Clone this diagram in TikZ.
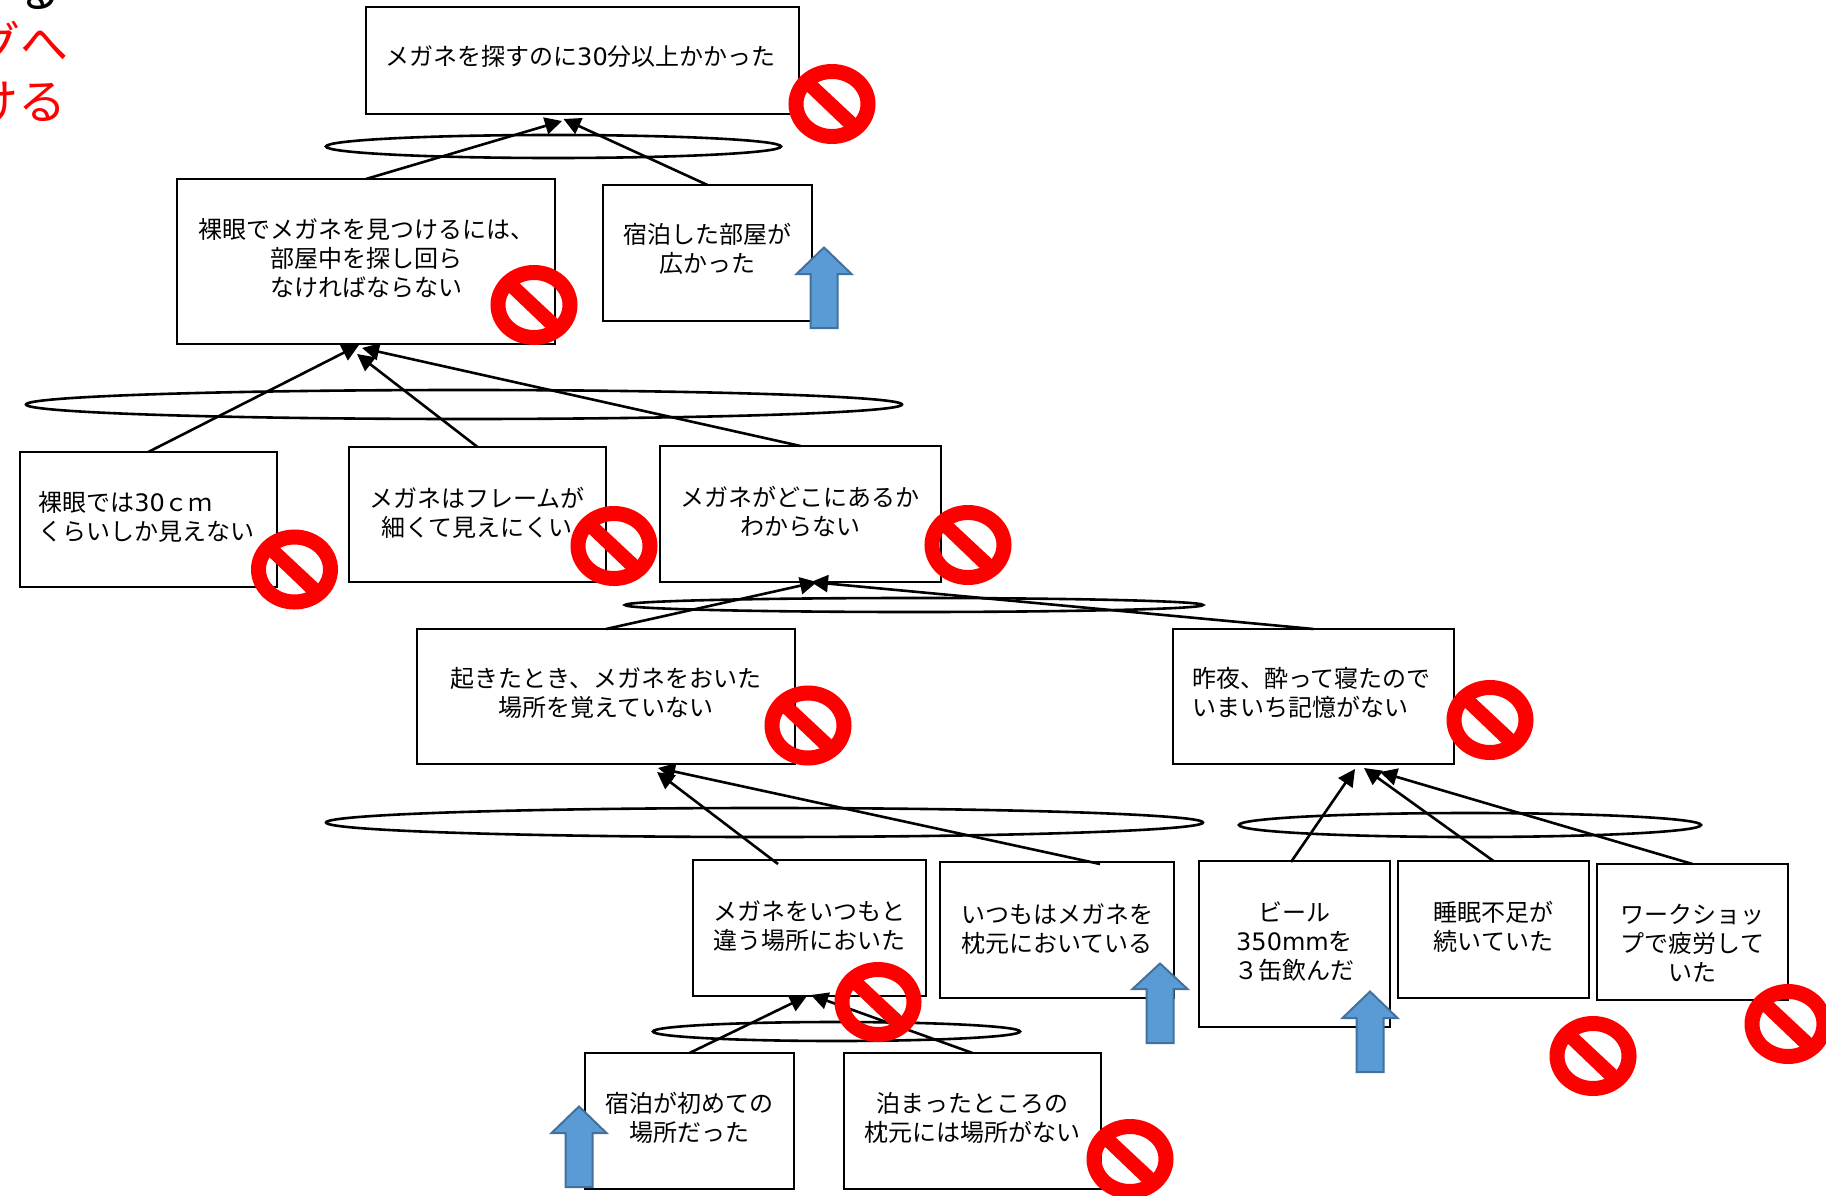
\documentclass[tikz,border=0pt]{standalone}
\usepackage{fontspec}
\setmainfont{Noto Sans CJK JP}
\newfontfamily\lat{DejaVu Sans}
\usetikzlibrary{arrows.meta,shapes.geometric}
\tikzset{
  causebox/.style={draw=black,fill=white,line width=2pt,rectangle,inner sep=0pt,outer sep=0pt},
  andring/.style={draw=black,line width=2.6pt,ellipse,inner sep=0pt,outer sep=0pt},
  link/.style={draw=black,line width=2.6pt,-{Triangle[length=17pt,width=17pt]},shorten >=0pt},
  bluearrow/.style={fill=arrowblue,draw=arrowedge,line width=2pt,line join=miter},
  redfrag/.style={text=red,font=\fontsize{48}{60}\selectfont,inner sep=0pt,anchor=east},
  pics/nosign/.style={code={
    \node[draw=red,line width=15pt,ellipse,inner sep=0pt,outer sep=0pt,minimum width=72pt,minimum height=65pt] {};
    \fill[red] (-18,-25) -- (28,18) -- (17,28) -- (-29,-16) -- cycle;
  }}
}
\definecolor{arrowblue}{HTML}{5B9BD5}
\definecolor{arrowedge}{HTML}{41719C}
% name, x1,y1,x2,y2, raise, column type, horizontal kern, text
\newcommand{\bx}[9]{%
  \pgfmathsetmacro{\bw}{#4-#2}\pgfmathsetmacro{\bh}{#5-#3}%
  \node[causebox,minimum width=\bw pt,minimum height=\bh pt] (#1) at ({(#2+#4)/2},{(#3+#5)/2})
    {\raisebox{#6pt}[0pt][0pt]{\makebox[0pt]{\kern#8pt\fontsize{24}{29}\selectfont\begin{tabular}{@{}#7@{}}#9\end{tabular}}}};%
}
% name, x1,y1,x2,y2
\newcommand{\rng}[5]{%
  \pgfmathsetmacro{\bw}{#4-#2}\pgfmathsetmacro{\bh}{#5-#3}%
  \node[andring,minimum width=\bw pt,minimum height=\bh pt] (#1) at ({(#2+#4)/2},{(#3+#5)/2}) {};%
}
% centre x, top, head base, half head, half shaft, bottom
\newcommand{\blueup}[6]{%
  \path[bluearrow] (#1,#2) -- ({#1+#4},#3) -- ({#1+#5},#3) -- ({#1+#5},#6) -- ({#1-#5},#6) -- ({#1-#5},#3) -- ({#1-#4},#3) -- cycle;%
}
\begin{document}
\begin{tikzpicture}[x=1pt,y=-1pt]
\useasboundingbox (0,0) rectangle (1826,1196);
\fill[white] (0,0) rectangle (1826,1196);

% clipped fragments at the upper left
\node[text=black,font=\fontsize{48}{60}\selectfont,inner sep=0pt,anchor=east] (fragA) at (62,-10) {る};
\node[redfrag] (fragB) at (68.5,43) {グへ};
\node[redfrag] (fragC) at (67,102) {ける};

% boxes
\bx{b1}{366}{7}{799}{114}{-5.5}{c}{-4}{メガネを探すのに{\lat 30}分以上かかった}
\bx{b2}{177}{179}{555}{344}{-6.5}{c}{0}{裸眼でメガネを見つけるには、\\部屋中を探し回ら\\なければならない}
\bx{b3}{603}{185}{812}{321}{-5.5}{c}{0}{宿泊した部屋が\\広かった}
\bx{b4}{19.5}{452}{277}{587}{-6.5}{l}{-4}{裸眼では{\lat 30}ｃｍ\\くらいしか見えない}
\bx{b5}{349}{447}{606}{582}{-7.5}{c}{-1}{メガネはフレームが\\細くて見えにくい}
\bx{b6}{660}{446}{941}{582}{-7}{c}{-1}{メガネがどこにあるか\\わからない}
\bx{b7}{417}{629}{795}{764}{-6}{c}{0}{起きたとき、メガネをおいた\\場所を覚えていない}
\bx{b8}{1173}{629}{1454}{764}{-6}{l}{-4}{昨夜、酔って寝たので\\いまいち記憶がない}
\bx{b9}{693}{860}{926}{996}{-7}{c}{0}{メガネをいつもと\\違う場所においた}
\bx{b10}{940}{862}{1174}{998}{-8}{c}{0}{いつもはメガネを\\枕元においている}
\bx{b11}{1199}{861}{1390}{1027}{-6.5}{c}{0}{ビール\\{\lat 350mm}を\\３缶飲んだ}
\bx{b12}{1398}{861}{1589}{998}{-7}{c}{0}{睡眠不足が\\続いていた}
\bx{b13}{1597}{864}{1788}{1000}{-20.5}{c}{0}{ワークショッ\\プで疲労して\\いた}
\bx{b14}{585}{1053}{794}{1189}{-6.5}{c}{0}{宿泊が初めての\\場所だった}
\bx{b15}{844}{1053}{1101}{1189}{-6.5}{c}{0}{泊まったところの\\枕元には場所がない}

% AND rings
\rng{r1}{326}{135}{781}{158}
\rng{r2}{26}{390}{902}{419}
\rng{r3}{625}{598}{1203}{612}
\rng{r4}{326}{808}{1203}{837}
\rng{r5}{1239}{813}{1701}{837}
\rng{r6}{653}{1022}{1020}{1041}

% connector free ends
\coordinate (t1) at (562,121);
\coordinate (t2) at (563.5,119);
\coordinate (t3) at (359,345);
\coordinate (t4) at (357,354);
\coordinate (t5) at (362,348);
\coordinate (t6) at (817,582);
\coordinate (t7) at (811,582);
\coordinate (s8) at (778,864);
\coordinate (t8) at (657,772);
\coordinate (s9) at (1100,864);
\coordinate (t9) at (658,768);
\coordinate (t10) at (1355,769);
\coordinate (t11) at (1364,768);
\coordinate (t12) at (1380,772);
\coordinate (t13) at (807,996);
\coordinate (t14) at (811,995);
\coordinate (s10) at (1291,862);

\draw[link] (b2.north) -- (t1);
\draw[link] (b3.north) -- (t2);
\draw[link] (b4.north) -- (t3);
\draw[link] (b5.north) -- (t4);
\draw[link] (b6.north) -- (t5);
\draw[link] (b7.north) -- (t6);
\draw[link] (b8.north) -- (t7);
\draw[link] (s8) -- (t8);
\draw[link] (s9) -- (t9);
\draw[link] (s10) -- (t10);
\draw[link] (b12.north) -- (t11);
\draw[link] (b13.north) -- (t12);
\draw[link] (b14.north) -- (t13);
\draw[link] (b15.north) -- (t14);

% blue up arrows
\blueup{824}{247.5}{274}{27.5}{13.5}{328}
\blueup{1160}{963.5}{989}{27.5}{13.5}{1043}
\blueup{1370}{991.5}{1018}{27.5}{13.5}{1072}
\blueup{579}{1106.5}{1133}{27.5}{13.5}{1187}

% prohibition signs
\pic at (832,104) {nosign};
\pic at (534,305) {nosign};
\pic at (294.5,569.5) {nosign};
\pic at (614,546) {nosign};
\pic at (968,545) {nosign};
\pic at (808,725.5) {nosign};
\pic at (1490,720) {nosign};
\pic at (878,1002) {nosign};
\pic at (1593,1056) {nosign};
\pic at (1788,1024) {nosign};
\pic at (1130,1159) {nosign};
\end{tikzpicture}
\end{document}
